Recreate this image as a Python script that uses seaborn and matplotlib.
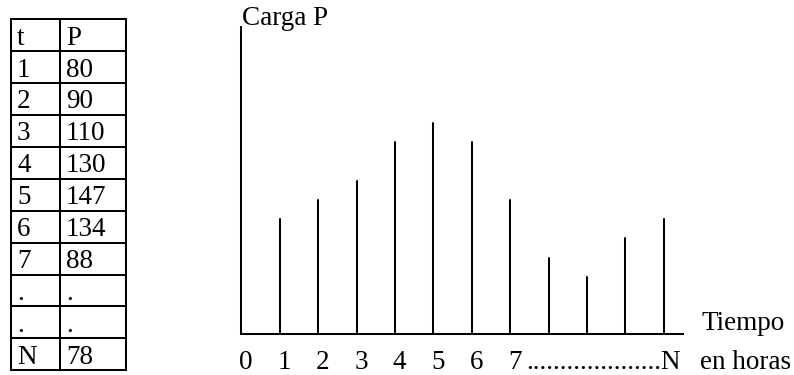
import matplotlib
matplotlib.use("Agg")
import matplotlib.pyplot as plt
import numpy as np
import pandas as pd
import seaborn as sns

# Table of hourly loads
table_header = ["t", "P"]
table_t = ["1", "2", "3", "4", "5", "6", "7", ".", ".", "N"]
table_p = ["80", "90", "110", "130", "147", "134", "88", ".", ".", "78"]

# Schematic load spikes along the time axis
spike_t = [1, 2, 3, 4, 5, 6, 7, 8, 9, 10, 11]
spike_carga = [6, 7, 8, 10, 11, 10, 7, 4, 3, 5, 6]
hour_labels = ["0", "1", "2", "3", "4", "5", "6", "7"]
tail_label = "....................N"

sns.set_style("white")
SERIF = "Liberation Serif"
plt.rcParams["font.family"] = SERIF

FS = 19.5
LW = 1.45
W, H = 794, 375
fig = plt.figure(figsize=(W / 100, H / 100), dpi=100)
fig.patch.set_facecolor("white")
txt = dict(fontsize=FS, family=SERIF, color="black")

# ---- table panel (pixel coordinates) ----
tab = fig.add_axes([0, 0, 1, 1])
tab.set_xlim(0, W)
tab.set_ylim(H, 0)
tab.axis("off")

x_left, x_mid, x_right = 11, 60, 126
y_top, row_h = 19.3, 31.9
rows = [table_header] + [[a, b] for a, b in zip(table_t, table_p)]
n_rows = len(rows)
y_bottom = y_top + row_h * n_rows
for k in range(n_rows + 1):
    y = y_top + row_h * k
    tab.plot([x_left, x_right], [y, y], color="black", lw=LW,
             solid_capstyle="projecting")
for x in (x_left, x_mid, x_right):
    tab.plot([x, x], [y_top, y_bottom], color="black", lw=LW,
             solid_capstyle="projecting")
for k, (a, b) in enumerate(rows):
    base = y_top + row_h * (k + 1) - 6.5
    tab.text(x_left + 6, base, a, ha="left", va="baseline", **txt)
    tab.text(x_mid + 6, base, b, ha="left", va="baseline", **txt)

# ---- spike chart ----
ax_l, ax_r, ax_b, ax_t = 241.5, 683.0, 334.3, 27.3
ax = fig.add_axes([ax_l / W, (H - ax_b) / H, (ax_r - ax_l) / W, (ax_b - ax_t) / H])
ax.set_facecolor("none")

seg = pd.DataFrame({
    "t": np.repeat(spike_t, 2),
    "carga": np.column_stack([np.zeros(len(spike_carga)), spike_carga]).ravel(),
    "spike": np.repeat(np.arange(len(spike_t)), 2),
})
sns.lineplot(data=seg, x="t", y="carga", units="spike", estimator=None,
             sort=False, color="black", lw=LW, legend=False, ax=ax)

ax.set_xlim(0, 11.5)
ax.set_ylim(0, 16)
ax.set_xticks([])
ax.set_yticks([])
ax.set_xlabel("")
ax.set_ylabel("")
for side in ("top", "right"):
    ax.spines[side].set_visible(False)
for side in ("left", "bottom"):
    ax.spines[side].set_color("black")
    ax.spines[side].set_linewidth(LW)

label_y = -1.8
for i, lab in enumerate(hour_labels):
    ax.text(i + 0.12, label_y, lab, ha="center", va="baseline",
            clip_on=False, **txt)
ax.text(11.45, label_y, tail_label, ha="right", va="baseline",
        clip_on=False, **txt)

ax.text(0.02, 16.12, "Carga P", ha="left", va="baseline", clip_on=False, **txt)
ax.text(11.98, 0.22, "Tiempo", ha="left", va="baseline", clip_on=False, **txt)
ax.text(11.94, label_y, "en horas", ha="left", va="baseline", clip_on=False, **txt)

fig.savefig("out.png", dpi=100, facecolor="white")
